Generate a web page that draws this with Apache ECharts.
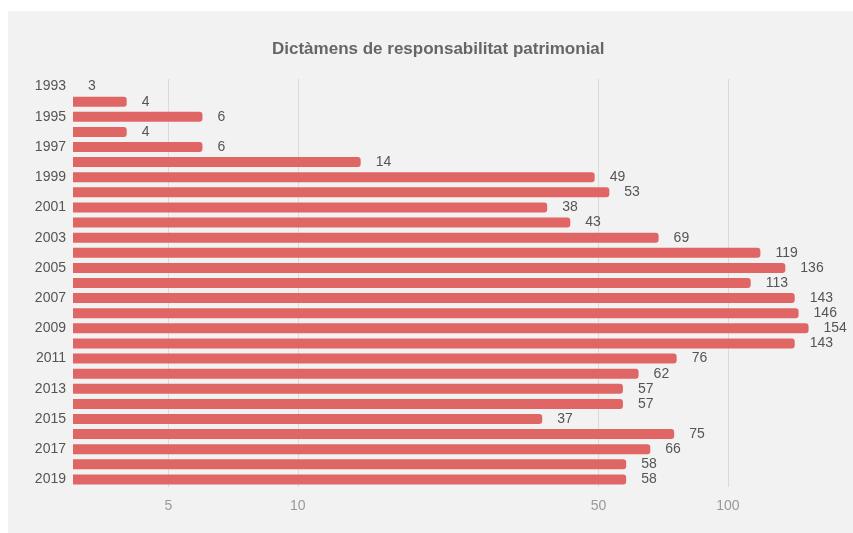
<!DOCTYPE html>
<html>
<head>
<meta charset="utf-8">
<script src="https://cdn.jsdelivr.net/npm/echarts@6/dist/echarts.min.js"></script>
<style>
  html, body { margin: 0; padding: 0; background: #ffffff; width: 853px; height: 533px; overflow: hidden; }
  #chart { position: absolute; left: 8px; top: 11px; width: 845px; height: 522px; background: #f2f2f2; }
</style>
</head>
<body>
<div id="chart"></div>
<script>
const years = ['1993','1994','1995','1996','1997','1998','1999','2000','2001','2002','2003','2004','2005','2006','2007','2008','2009','2010','2011','2012','2013','2014','2015','2016','2017','2018','2019'];
const dictamens = [3,4,6,4,6,14,49,53,38,43,69,119,136,113,143,146,154,143,76,62,57,57,37,75,66,58,58];
const xTicks = [5,10,50,100];
const titleText = 'Dictàmens de responsabilitat patrimonial';

const chart = echarts.init(document.getElementById('chart'), null, { renderer: 'canvas' });
chart.setOption({
  backgroundColor: '#f2f2f2',
  textStyle: { fontFamily: 'Liberation Sans, Arial, sans-serif' },
  title: {
    text: titleText,
    left: 259,
    top: 25,
    textStyle: { fontSize: 17, fontWeight: 'bold', color: '#666666', fontFamily: 'Liberation Sans, Arial, sans-serif' }
  },
  grid: { left: 65, right: 26, top: 68, bottom: 46, containLabel: false },
  xAxis: {
    type: 'log',
    logBase: 10,
    min: 3,
    max: 170,
    axisLine: { show: false },
    axisTick: { show: false, customValues: xTicks },
    axisLabel: { customValues: xTicks, color: '#999999', fontSize: 14, margin: 12 },
    splitLine: { show: true, lineStyle: { color: '#dadada', width: 1 } },
    minorTick: { show: false },
    minorSplitLine: { show: false }
  },
  yAxis: {
    type: 'category',
    data: years,
    inverse: true,
    axisLine: { show: false },
    axisTick: { show: false },
    axisLabel: { interval: 1, color: '#555555', fontSize: 14, margin: 7 },
    splitLine: { show: false }
  },
  series: [{
    type: 'bar',
    data: dictamens,
    barWidth: 10,
    itemStyle: { color: '#e06666', borderRadius: [0, 3, 3, 0] },
    label: { show: true, position: 'right', distance: 15, color: '#555555', fontSize: 14 },
    animation: false
  }],
  animation: false
});
</script>
</body>
</html>
